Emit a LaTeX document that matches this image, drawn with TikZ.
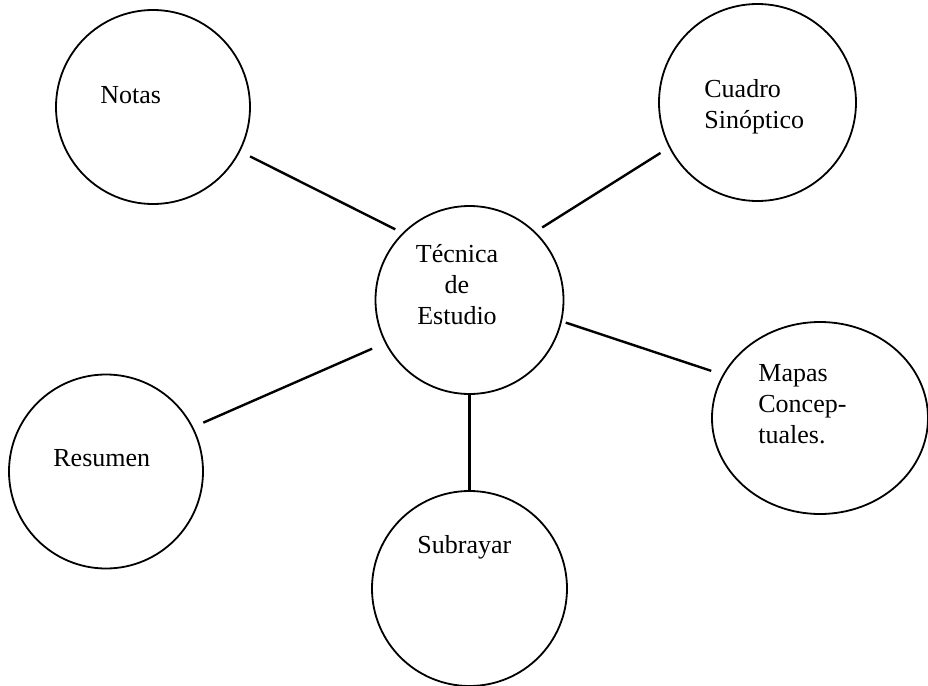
\documentclass[tikz,border=0pt]{standalone}
\usepackage{fontspec}
\setmainfont{Liberation Serif}
\usetikzlibrary{shapes.geometric}
\begin{document}
\begin{tikzpicture}[x=0.5pt,y=-0.5pt,
    bubble/.style={draw,circle,line width=0.9pt,inner sep=0pt},
    oval/.style={draw,ellipse,line width=0.9pt,inner sep=0pt},
    lbl/.style={inner sep=0pt,font=\fontsize{13}{15.5}\selectfont}]
  \useasboundingbox (0,0) rectangle (928,686);
  \draw
    (153,107) node[bubble,minimum size=97pt] (notas){}
    (757.5,102.5) node[bubble,minimum size=98.5pt] (cuadro){}
    (469.5,300) node[bubble,minimum size=94pt] (tecnica){}
    (820,418) node[oval,minimum width=108pt,minimum height=96pt] (mapas){}
    (106,471.5) node[bubble,minimum size=97pt] (resumen){}
    (469.5,588.5) node[bubble,minimum size=97.5pt] (subrayar){};
  \draw
    (100,103) node[lbl,anchor=base west] (notas-t){Notas}
    (704,107) node[lbl,anchor=west,align=left] (cuadro-t){Cuadro\\Sinóptico}
    (457,285) node[lbl,align=center] (tecnica-t){Técnica\\de\\Estudio}
    (758,404) node[lbl,anchor=west,align=left] (mapas-t){Mapas\\Concep-\\tuales.}
    (53,466) node[lbl,anchor=base west] (resumen-t){Resumen}
    (417,553) node[lbl,anchor=base west] (subrayar-t){Subrayar};
  \begin{scope}[line width=1.2pt]
    \draw[shorten <=5.5pt,shorten >=4pt] (notas.-27) to (tecnica.135);
    \draw[shorten <=5pt,shorten >=4pt] (cuadro.207) to (tecnica.46);
    \draw[shorten <=2pt,shorten >=6pt] (tecnica.-13) to (mapas.156);
    \draw[shorten <=5.5pt,shorten >=7pt] (resumen.27) to (tecnica.207);
    \draw (tecnica.south) to (subrayar.north);
  \end{scope}
\end{tikzpicture}
\end{document}
